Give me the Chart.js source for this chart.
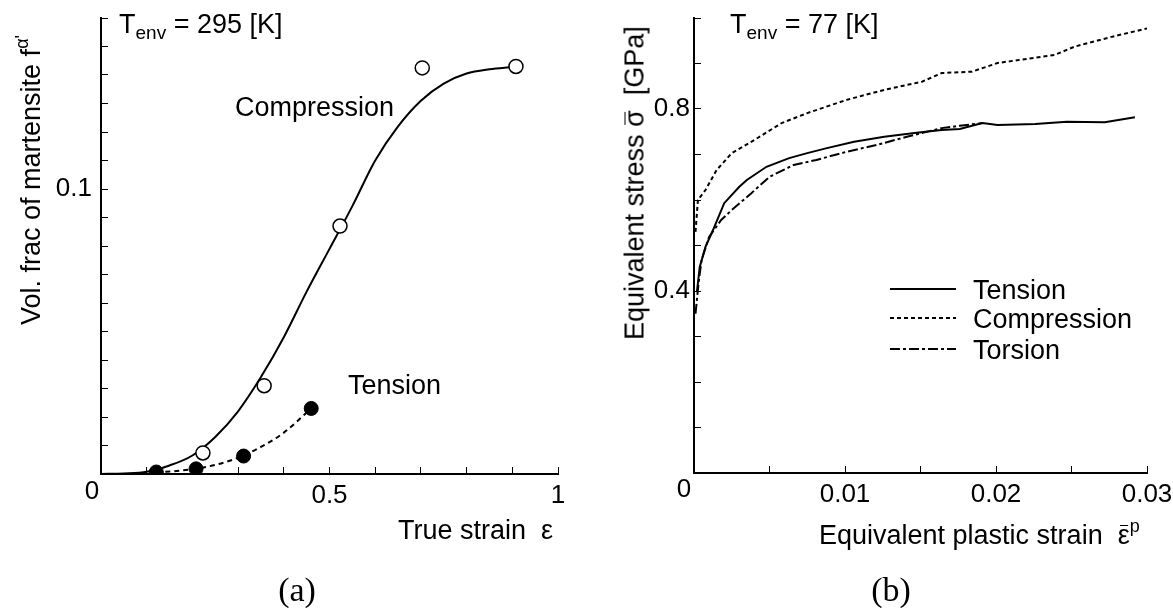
<!DOCTYPE html>
<html>
<head>
<meta charset="utf-8">
<script src="https://cdn.jsdelivr.net/npm/chart.js@4/dist/chart.umd.min.js"></script>
<style>
  html, body { margin: 0; padding: 0; background: #fff; }
  #wrap { position: relative; width: 1173px; height: 608px; overflow: hidden; font-family: "Liberation Sans", Arial, sans-serif; color: #000; }
  canvas { position: absolute; top: 0; }
  .t { position: absolute; white-space: nowrap; line-height: 1; font-size: 27px; }
  .c { transform: translate(-50%, -50%); }
  .l { transform: translateY(-50%); }
  .rot { transform: translate(-50%, -50%) rotate(-90deg); }
  .ov { position: relative; }
  .ov::before { content: ""; position: absolute; left: 2px; right: 2px; top: 0.2em; border-top: 1.5px solid #000; }
  .cap { font-family: "Liberation Serif", serif; font-size: 34px; }
  sub { font-size: 19px; vertical-align: -6px; }
  sup { font-size: 18px; vertical-align: 12px; }
</style>
</head>
<body>
<div id="wrap">
  <canvas id="chartA" width="586" height="608" style="left:0;width:586px;height:608px"></canvas>
  <canvas id="chartB" width="587" height="608" style="left:586px;width:587px;height:608px"></canvas>

  <!-- panel (a) texts -->
  <div class="t" style="left:119px;top:11px">T<sub>env</sub> = 295 [K]</div>
  <div class="t l" style="left:235px;top:107px">Compression</div>
  <div class="t l" style="left:348px;top:385px">Tension</div>
  <div class="t c" style="left:92px;top:490px;font-size:26px">0</div>
  <div class="t rot" style="left:29px;top:180px">Vol. frac of martensite f<sup>α'</sup></div>
  <div class="t" style="left:398px;top:517px">True strain&nbsp; ε</div>
  <div class="t c cap" style="left:297px;top:590px">(a)</div>

  <!-- panel (b) texts -->
  <div class="t" style="left:730px;top:11px">T<sub>env</sub> = 77 [K]</div>
  <div class="t c" style="left:684px;top:488px;font-size:26px">0</div>
  <div class="t rot" style="left:635px;top:183px">Equivalent stress <span class="ov">σ</span>&nbsp; [GPa]</div>
  <div class="t" style="left:819px;top:517px">Equivalent plastic strain&nbsp; <span class="ov">ε</span><sup>p</sup></div>
  <div class="t c cap" style="left:891px;top:590px">(b)</div>

  <!-- legend (b) -->
  <svg style="position:absolute;left:888px;top:275px" width="70" height="90">
    <line x1="2" y1="14" x2="68" y2="14" stroke="#000" stroke-width="2"/>
    <line x1="2" y1="43" x2="68" y2="43" stroke="#000" stroke-width="2" stroke-dasharray="4 3"/>
    <line x1="2" y1="74" x2="68" y2="74" stroke="#000" stroke-width="2" stroke-dasharray="10 3 3 3"/>
  </svg>
  <div class="t l" style="left:973px;top:290px">Tension</div>
  <div class="t l" style="left:973px;top:319px">Compression</div>
  <div class="t l" style="left:973px;top:350px">Torsion</div>
</div>

<script>
// -----------------------------
// DATA (a): martensite fraction vs true strain, T = 295 K
// -----------------------------
const compStrain = [0.223, 0.357, 0.523, 0.703, 0.908];
const compFrac   = [0.0074, 0.031, 0.087, 0.1425, 0.143];
const tensStrain = [0.121, 0.208, 0.312, 0.46];
const tensFrac   = [0.0007, 0.0018, 0.0063, 0.023];

const compFitStrain = [0, 0.05, 0.1, 0.15, 0.2, 0.25, 0.3, 0.35, 0.4, 0.45, 0.5, 0.55, 0.6, 0.65, 0.7, 0.75, 0.8, 0.85, 0.9];
const compFitFrac   = [0, 0.0002, 0.0008, 0.003, 0.0065, 0.013, 0.022, 0.034, 0.048, 0.064, 0.079, 0.094, 0.110, 0.122, 0.131, 0.137, 0.1405, 0.142, 0.1428];
const tensFitStrain = [0.121, 0.16, 0.2, 0.25, 0.3, 0.35, 0.4, 0.46];
const tensFitFrac   = [0.0007, 0.001, 0.0017, 0.0032, 0.0057, 0.0095, 0.0145, 0.023];

const ticksA_x = [0, 0.5, 1];     // labelled x ticks (0 drawn at corner)
const ticksA_y = [0.1];           // labelled y ticks

// -----------------------------
// DATA (b): equivalent stress vs equivalent plastic strain, T = 77 K
// -----------------------------
const tenX = [0.0002, 0.00038, 0.00076, 0.00126, 0.002, 0.003, 0.0035, 0.0048, 0.0063, 0.0075, 0.0088, 0.0106, 0.0126, 0.0146, 0.0164, 0.0176, 0.0191, 0.0201, 0.0226, 0.0247, 0.0272, 0.0292];
const tenY = [0.40, 0.453, 0.497, 0.534, 0.593, 0.629, 0.644, 0.673, 0.692, 0.703, 0.714, 0.728, 0.739, 0.747, 0.754, 0.756, 0.769, 0.765, 0.767, 0.772, 0.771, 0.782];

const cmpX = [0.0001, 0.00026, 0.00076, 0.0015, 0.0025, 0.004, 0.0058, 0.0075, 0.0101, 0.0126, 0.0151, 0.0164, 0.0184, 0.0201, 0.0239, 0.0252, 0.0277, 0.030];
const cmpY = [0.53, 0.60, 0.622, 0.666, 0.703, 0.732, 0.769, 0.791, 0.820, 0.842, 0.860, 0.879, 0.882, 0.901, 0.919, 0.937, 0.959, 0.977];

const torX = [0.0001, 0.0003, 0.0005, 0.001, 0.0018, 0.0025, 0.0038, 0.005, 0.0066, 0.0081, 0.0101, 0.0121, 0.0141, 0.0164, 0.0176, 0.0191];
const torY = [0.35, 0.417, 0.468, 0.519, 0.556, 0.578, 0.615, 0.651, 0.677, 0.688, 0.706, 0.721, 0.739, 0.758, 0.763, 0.769];

const ticksB_x = [0.01, 0.02, 0.03];
const ticksB_y = [0.4, 0.8];

const pts = (xs, ys) => xs.map((x, i) => ({ x, y: ys[i] }));
const hasTick = (list, v) => list.some(t => t !== 0 && Math.abs(t - v) < 1e-9);

function axis(min, max, step, labelled, pad, fixedSize, vertical) {
    return {
        type: "linear",
        min, max,
        border: { color: "#000", width: 2 },
        grid: { drawOnChartArea: false, drawTicks: true, tickLength: -7, color: "#000", lineWidth: 1 },
        ticks: {
            stepSize: step,
            maxTicksLimit: 100,
            autoSkip: false,
            maxRotation: 0,
            padding: pad,
            color: "#000",
            font: { family: "Liberation Sans", size: 26 },
            callback: v => hasTick(labelled, v) ? String(v) : ""
        },
        // fixed axis box so the plot area lands where the figure has it
        afterFit: s => {
            if (vertical) { s.width = fixedSize; s.paddingTop = 0; s.paddingBottom = 0; }
            else { s.height = fixedSize; s.paddingLeft = 0; s.paddingRight = 0; }
        }
    };
}

const baseOpts = {
    responsive: false,
    animation: false,
    plugins: { legend: { display: false }, tooltip: { enabled: false } },
    elements: { point: { radius: 0 } }
};

// -----------------------------
// CHART (a)
// -----------------------------
new Chart(document.getElementById("chartA"), {
    type: "scatter",
    data: {
        datasets: [
            { data: pts(compStrain, compFrac), pointRadius: 7, pointBackgroundColor: "#fff", pointBorderColor: "#000", pointBorderWidth: 1.5, showLine: false },
            { data: pts(tensStrain, tensFrac), pointRadius: 7, pointBackgroundColor: "#000", pointBorderColor: "#000", pointBorderWidth: 1, showLine: false },
            { data: pts(compFitStrain, compFitFrac), showLine: true, borderColor: "#000", borderWidth: 2, cubicInterpolationMode: "monotone", pointRadius: 0 },
            { data: pts(tensFitStrain, tensFitFrac), showLine: true, borderColor: "#000", borderWidth: 2, borderDash: [5, 4], cubicInterpolationMode: "monotone", pointRadius: 0 }
        ]
    },
    options: Object.assign({}, baseOpts, {
        layout: { padding: { left: 0, top: 18, right: 28, bottom: 0 } },
        scales: {
            x: axis(0, 1, 0.1, ticksA_x, 13, 134, false),
            y: axis(0, 0.16, 0.01, ticksA_y, 16, 101, true)
        }
    })
});

// -----------------------------
// CHART (b)
// -----------------------------
new Chart(document.getElementById("chartB"), {
    type: "scatter",
    data: {
        datasets: [
            { data: pts(tenX, tenY), showLine: true, borderColor: "#000", borderWidth: 2, pointRadius: 0 },
            { data: pts(cmpX, cmpY), showLine: true, borderColor: "#000", borderWidth: 2, borderDash: [4, 3], pointRadius: 0 },
            { data: pts(torX, torY), showLine: true, borderColor: "#000", borderWidth: 2, borderDash: [10, 3, 3, 3], pointRadius: 0 }
        ]
    },
    options: Object.assign({}, baseOpts, {
        layout: { padding: { left: 0, top: 18, right: 26, bottom: 0 } },
        scales: {
            x: axis(0, 0.03, 0.005, ticksB_x, 13, 135, false),
            y: axis(0, 1, 0.1, ticksB_y, 11, 108, true)
        }
    })
});
</script>
</body>
</html>
